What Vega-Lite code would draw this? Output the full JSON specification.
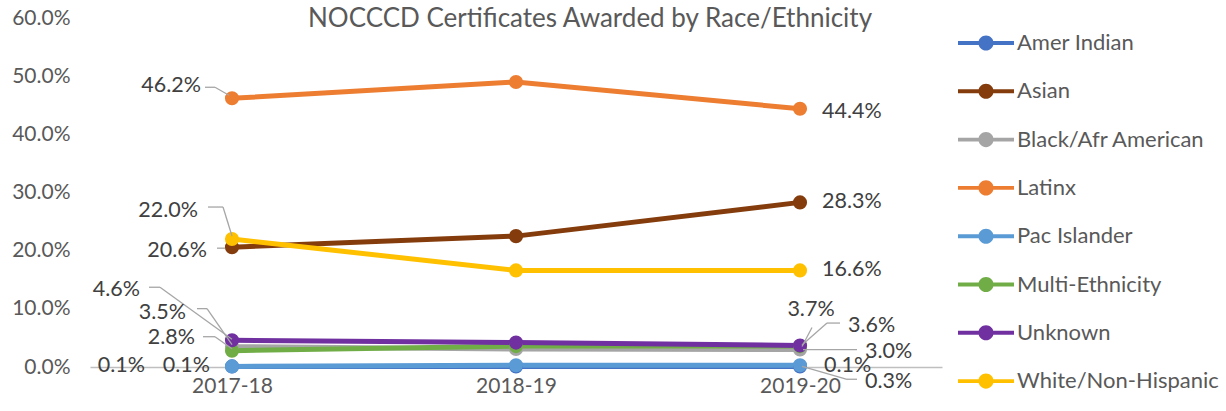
{
  "$schema": "https://vega.github.io/schema/vega-lite/v6.json",
  "autosize": {"type": "none"},
  "width": 852,
  "height": 349,
  "padding": {"left": 90, "top": 18, "right": 284, "bottom": 44},
  "background": "white",
  "config": {"view": {"stroke": null}, "font": "Lato"},
  "title": {"text": "NOCCCD Certificates Awarded by Race/Ethnicity", "font": "Lato", "fontSize": 26, "fontWeight": "normal", "color": "#595959", "anchor": "middle", "dx": 74, "offset": -38, "baseline": "middle"},
  "data": {"values": [
    {"series": "Amer Indian", "year": "2017-18", "value": 0.001},
    {"series": "Amer Indian", "year": "2018-19", "value": 0.001},
    {"series": "Amer Indian", "year": "2019-20", "value": 0.001},
    {"series": "Asian", "year": "2017-18", "value": 0.206},
    {"series": "Asian", "year": "2018-19", "value": 0.225},
    {"series": "Asian", "year": "2019-20", "value": 0.283},
    {"series": "Black/Afr American", "year": "2017-18", "value": 0.035},
    {"series": "Black/Afr American", "year": "2018-19", "value": 0.031},
    {"series": "Black/Afr American", "year": "2019-20", "value": 0.030},
    {"series": "Latinx", "year": "2017-18", "value": 0.462},
    {"series": "Latinx", "year": "2018-19", "value": 0.490},
    {"series": "Latinx", "year": "2019-20", "value": 0.444},
    {"series": "Pac Islander", "year": "2017-18", "value": 0.001},
    {"series": "Pac Islander", "year": "2018-19", "value": 0.003},
    {"series": "Pac Islander", "year": "2019-20", "value": 0.003},
    {"series": "Multi-Ethnicity", "year": "2017-18", "value": 0.028},
    {"series": "Multi-Ethnicity", "year": "2018-19", "value": 0.036},
    {"series": "Multi-Ethnicity", "year": "2019-20", "value": 0.036},
    {"series": "Unknown", "year": "2017-18", "value": 0.046},
    {"series": "Unknown", "year": "2018-19", "value": 0.042},
    {"series": "Unknown", "year": "2019-20", "value": 0.037},
    {"series": "White/Non-Hispanic", "year": "2017-18", "value": 0.220},
    {"series": "White/Non-Hispanic", "year": "2018-19", "value": 0.166},
    {"series": "White/Non-Hispanic", "year": "2019-20", "value": 0.166}
  ]},
  "encoding": {
    "x": {"field": "year", "type": "ordinal", "scale": {"type": "point", "padding": 0.5},
      "axis": {"title": null, "labelAngle": 0, "labelFont": "Lato", "labelFontSize": 21, "labelColor": "#595959", "ticks": false, "tickSize": 0, "labelPadding": 8, "domainColor": "#BFBFBF", "domainWidth": 1.5, "grid": false}},
    "y": {"field": "value", "type": "quantitative", "scale": {"domain": [0, 0.6], "nice": false, "zero": true},
      "axis": {"title": null, "format": ".1%", "values": [0, 0.1, 0.2, 0.3, 0.4, 0.5, 0.6], "labelFont": "Lato", "labelFontSize": 21, "labelColor": "#595959", "ticks": false, "tickSize": 0, "labelPadding": 20, "domain": false, "grid": false}}
  },
  "layer": [
    {"mark": {"type": "line", "strokeWidth": 5},
     "encoding": {"color": {"field": "series", "type": "nominal",
       "scale": {"domain": ["Amer Indian", "Asian", "Black/Afr American", "Latinx", "Pac Islander", "Multi-Ethnicity", "Unknown", "White/Non-Hispanic"],
                 "range": ["#4472C4", "#843C0C", "#A5A5A5", "#ED7D31", "#5B9BD5", "#70AD47", "#7030A0", "#FFC000"]},
       "legend": {"title": null, "orient": "none", "legendX": 868, "legendY": 5, "padding": 0,
         "symbolType": "M-1,-0.07H1V0.07H-1Z M-0.27,0A0.27,0.27 0 1,1 0.27,0A0.27,0.27 0 1,1 -0.27,0Z",
         "symbolSize": 3136, "symbolStrokeWidth": 0, "clipHeight": 40, "rowPadding": 8.3, "labelOffset": 3,
         "labelFont": "Lato", "labelFontSize": 22, "labelColor": "#595959", "labelLimit": 300}}}},
    {"mark": {"type": "point", "filled": true, "size": 200, "opacity": 1},
     "encoding": {"color": {"field": "series", "type": "nominal"}}},
    {"transform": [{"filter": "datum.year==='2017-18' && datum.series==='Latinx'"}], "mark": {"type": "rule", "color": "#A6A6A6", "strokeWidth": 1.3, "xOffset": -27, "yOffset": -11, "x2Offset": -17, "y2Offset": -11}, "encoding": {"x2": {"field": "year"}, "y2": {"field": "value"}}},
    {"transform": [{"filter": "datum.year==='2017-18' && datum.series==='Latinx'"}], "mark": {"type": "rule", "color": "#A6A6A6", "strokeWidth": 1.3, "xOffset": -17, "yOffset": -11, "x2Offset": -3, "y2Offset": -3}, "encoding": {"x2": {"field": "year"}, "y2": {"field": "value"}}},
    {"transform": [{"filter": "datum.year==='2017-18' && datum.series==='White/Non-Hispanic'"}], "mark": {"type": "rule", "color": "#A6A6A6", "strokeWidth": 1.3, "xOffset": -24, "yOffset": -32, "x2Offset": -9, "y2Offset": -32}, "encoding": {"x2": {"field": "year"}, "y2": {"field": "value"}}},
    {"transform": [{"filter": "datum.year==='2017-18' && datum.series==='White/Non-Hispanic'"}], "mark": {"type": "rule", "color": "#A6A6A6", "strokeWidth": 1.3, "xOffset": -9, "yOffset": -32, "x2Offset": 0, "y2Offset": -3}, "encoding": {"x2": {"field": "year"}, "y2": {"field": "value"}}},
    {"transform": [{"filter": "datum.year==='2017-18' && datum.series==='Asian'"}], "mark": {"type": "rule", "color": "#A6A6A6", "strokeWidth": 1.3, "xOffset": -15, "yOffset": 1, "x2Offset": -7, "y2Offset": 1}, "encoding": {"x2": {"field": "year"}, "y2": {"field": "value"}}},
    {"transform": [{"filter": "datum.year==='2017-18' && datum.series==='Unknown'"}], "mark": {"type": "rule", "color": "#A6A6A6", "strokeWidth": 1.3, "xOffset": -83, "yOffset": -53, "x2Offset": -72, "y2Offset": -53}, "encoding": {"x2": {"field": "year"}, "y2": {"field": "value"}}},
    {"transform": [{"filter": "datum.year==='2017-18' && datum.series==='Unknown'"}], "mark": {"type": "rule", "color": "#A6A6A6", "strokeWidth": 1.3, "xOffset": -72, "yOffset": -53, "x2Offset": 0, "y2Offset": -1}, "encoding": {"x2": {"field": "year"}, "y2": {"field": "value"}}},
    {"transform": [{"filter": "datum.year==='2017-18' && datum.series==='Black/Afr American'"}], "mark": {"type": "rule", "color": "#A6A6A6", "strokeWidth": 1.3, "xOffset": -35, "yOffset": -38, "x2Offset": -25, "y2Offset": -38}, "encoding": {"x2": {"field": "year"}, "y2": {"field": "value"}}},
    {"transform": [{"filter": "datum.year==='2017-18' && datum.series==='Black/Afr American'"}], "mark": {"type": "rule", "color": "#A6A6A6", "strokeWidth": 1.3, "xOffset": -25, "yOffset": -38, "x2Offset": 0, "y2Offset": -2}, "encoding": {"x2": {"field": "year"}, "y2": {"field": "value"}}},
    {"transform": [{"filter": "datum.year==='2017-18' && datum.series==='Multi-Ethnicity'"}], "mark": {"type": "rule", "color": "#A6A6A6", "strokeWidth": 1.3, "xOffset": -29, "yOffset": -14, "x2Offset": -17, "y2Offset": -14}, "encoding": {"x2": {"field": "year"}, "y2": {"field": "value"}}},
    {"transform": [{"filter": "datum.year==='2017-18' && datum.series==='Multi-Ethnicity'"}], "mark": {"type": "rule", "color": "#A6A6A6", "strokeWidth": 1.3, "xOffset": -17, "yOffset": -14, "x2Offset": 0, "y2Offset": -2}, "encoding": {"x2": {"field": "year"}, "y2": {"field": "value"}}},
    {"transform": [{"filter": "datum.year==='2019-20' && datum.series==='Unknown'"}], "mark": {"type": "rule", "color": "#A6A6A6", "strokeWidth": 1.3, "xOffset": 12, "yOffset": -18, "x2Offset": 2, "y2Offset": 1}, "encoding": {"x2": {"field": "year"}, "y2": {"field": "value"}}},
    {"transform": [{"filter": "datum.year==='2019-20' && datum.series==='Multi-Ethnicity'"}], "mark": {"type": "rule", "color": "#A6A6A6", "strokeWidth": 1.3, "xOffset": 40, "yOffset": -23, "x2Offset": 27, "y2Offset": -23}, "encoding": {"x2": {"field": "year"}, "y2": {"field": "value"}}},
    {"transform": [{"filter": "datum.year==='2019-20' && datum.series==='Multi-Ethnicity'"}], "mark": {"type": "rule", "color": "#A6A6A6", "strokeWidth": 1.3, "xOffset": 27, "yOffset": -23, "x2Offset": 2, "y2Offset": -1}, "encoding": {"x2": {"field": "year"}, "y2": {"field": "value"}}},
    {"transform": [{"filter": "datum.year==='2019-20' && datum.series==='Black/Afr American'"}], "mark": {"type": "rule", "color": "#A6A6A6", "strokeWidth": 1.3, "xOffset": 3, "yOffset": 0, "x2Offset": 57, "y2Offset": 0}, "encoding": {"x2": {"field": "year"}, "y2": {"field": "value"}}},
    {"transform": [{"filter": "datum.year==='2019-20' && datum.series==='Pac Islander'"}], "mark": {"type": "rule", "color": "#A6A6A6", "strokeWidth": 1.3, "xOffset": 2, "yOffset": 1, "x2Offset": 47, "y2Offset": 14}, "encoding": {"x2": {"field": "year"}, "y2": {"field": "value"}}},
    {"transform": [{"filter": "datum.year==='2019-20' && datum.series==='Pac Islander'"}], "mark": {"type": "rule", "color": "#A6A6A6", "strokeWidth": 1.3, "xOffset": 47, "yOffset": 14, "x2Offset": 57, "y2Offset": 14}, "encoding": {"x2": {"field": "year"}, "y2": {"field": "value"}}},
    {"transform": [{"filter": "datum.year==='2017-18' && datum.series==='Latinx'"}], "mark": {"type": "text", "font": "Lato", "fontSize": 21.5, "fill": "#404040", "baseline": "middle", "align": "right", "dx": -31, "dy": -12}, "encoding": {"text": {"field": "value", "format": ".1%"}}},
    {"transform": [{"filter": "datum.year==='2017-18' && datum.series==='Asian'"}], "mark": {"type": "text", "font": "Lato", "fontSize": 21.5, "fill": "#404040", "baseline": "middle", "align": "right", "dx": -25, "dy": 4}, "encoding": {"text": {"field": "value", "format": ".1%"}}},
    {"transform": [{"filter": "datum.year==='2017-18' && datum.series==='White/Non-Hispanic'"}], "mark": {"type": "text", "font": "Lato", "fontSize": 21.5, "fill": "#404040", "baseline": "middle", "align": "right", "dx": -34, "dy": -28}, "encoding": {"text": {"field": "value", "format": ".1%"}}},
    {"transform": [{"filter": "datum.year==='2017-18' && datum.series==='Unknown'"}], "mark": {"type": "text", "font": "Lato", "fontSize": 21.5, "fill": "#404040", "baseline": "middle", "align": "right", "dx": -92, "dy": -50}, "encoding": {"text": {"field": "value", "format": ".1%"}}},
    {"transform": [{"filter": "datum.year==='2017-18' && datum.series==='Black/Afr American'"}], "mark": {"type": "text", "font": "Lato", "fontSize": 21.5, "fill": "#404040", "baseline": "middle", "align": "right", "dx": -46, "dy": -34}, "encoding": {"text": {"field": "value", "format": ".1%"}}},
    {"transform": [{"filter": "datum.year==='2017-18' && datum.series==='Multi-Ethnicity'"}], "mark": {"type": "text", "font": "Lato", "fontSize": 21.5, "fill": "#404040", "baseline": "middle", "align": "right", "dx": -37, "dy": -13}, "encoding": {"text": {"field": "value", "format": ".1%"}}},
    {"transform": [{"filter": "datum.year==='2017-18' && datum.series==='Amer Indian'"}], "mark": {"type": "text", "font": "Lato", "fontSize": 21.5, "fill": "#404040", "baseline": "middle", "align": "right", "dx": -87, "dy": 0}, "encoding": {"text": {"field": "value", "format": ".1%"}}},
    {"transform": [{"filter": "datum.year==='2017-18' && datum.series==='Pac Islander'"}], "mark": {"type": "text", "font": "Lato", "fontSize": 21.5, "fill": "#404040", "baseline": "middle", "align": "right", "dx": -22, "dy": 0}, "encoding": {"text": {"field": "value", "format": ".1%"}}},
    {"transform": [{"filter": "datum.year==='2019-20' && datum.series==='Latinx'"}], "mark": {"type": "text", "font": "Lato", "fontSize": 21.5, "fill": "#404040", "baseline": "middle", "align": "left", "dx": 22, "dy": 3}, "encoding": {"text": {"field": "value", "format": ".1%"}}},
    {"transform": [{"filter": "datum.year==='2019-20' && (datum.series==='Asian' || datum.series==='White/Non-Hispanic')"}], "mark": {"type": "text", "font": "Lato", "fontSize": 21.5, "fill": "#404040", "baseline": "middle", "align": "left", "dx": 22, "dy": 0}, "encoding": {"text": {"field": "value", "format": ".1%"}}},
    {"transform": [{"filter": "datum.year==='2019-20' && datum.series==='Unknown'"}], "mark": {"type": "text", "font": "Lato", "fontSize": 21.5, "fill": "#404040", "baseline": "middle", "align": "center", "dx": 11, "dy": -35}, "encoding": {"text": {"field": "value", "format": ".1%"}}},
    {"transform": [{"filter": "datum.year==='2019-20' && datum.series==='Multi-Ethnicity'"}], "mark": {"type": "text", "font": "Lato", "fontSize": 21.5, "fill": "#404040", "baseline": "middle", "align": "left", "dx": 48, "dy": -20}, "encoding": {"text": {"field": "value", "format": ".1%"}}},
    {"transform": [{"filter": "datum.year==='2019-20' && datum.series==='Black/Afr American'"}], "mark": {"type": "text", "font": "Lato", "fontSize": 21.5, "fill": "#404040", "baseline": "middle", "align": "left", "dx": 65, "dy": 2}, "encoding": {"text": {"field": "value", "format": ".1%"}}},
    {"transform": [{"filter": "datum.year==='2019-20' && datum.series==='Amer Indian'"}], "mark": {"type": "text", "font": "Lato", "fontSize": 21.5, "fill": "#404040", "baseline": "middle", "align": "left", "dx": 24, "dy": 0}, "encoding": {"text": {"field": "value", "format": ".1%"}}},
    {"transform": [{"filter": "datum.year==='2019-20' && datum.series==='Pac Islander'"}], "mark": {"type": "text", "font": "Lato", "fontSize": 21.5, "fill": "#404040", "baseline": "middle", "align": "left", "dx": 65, "dy": 17}, "encoding": {"text": {"field": "value", "format": ".1%"}}}
  ]
}
